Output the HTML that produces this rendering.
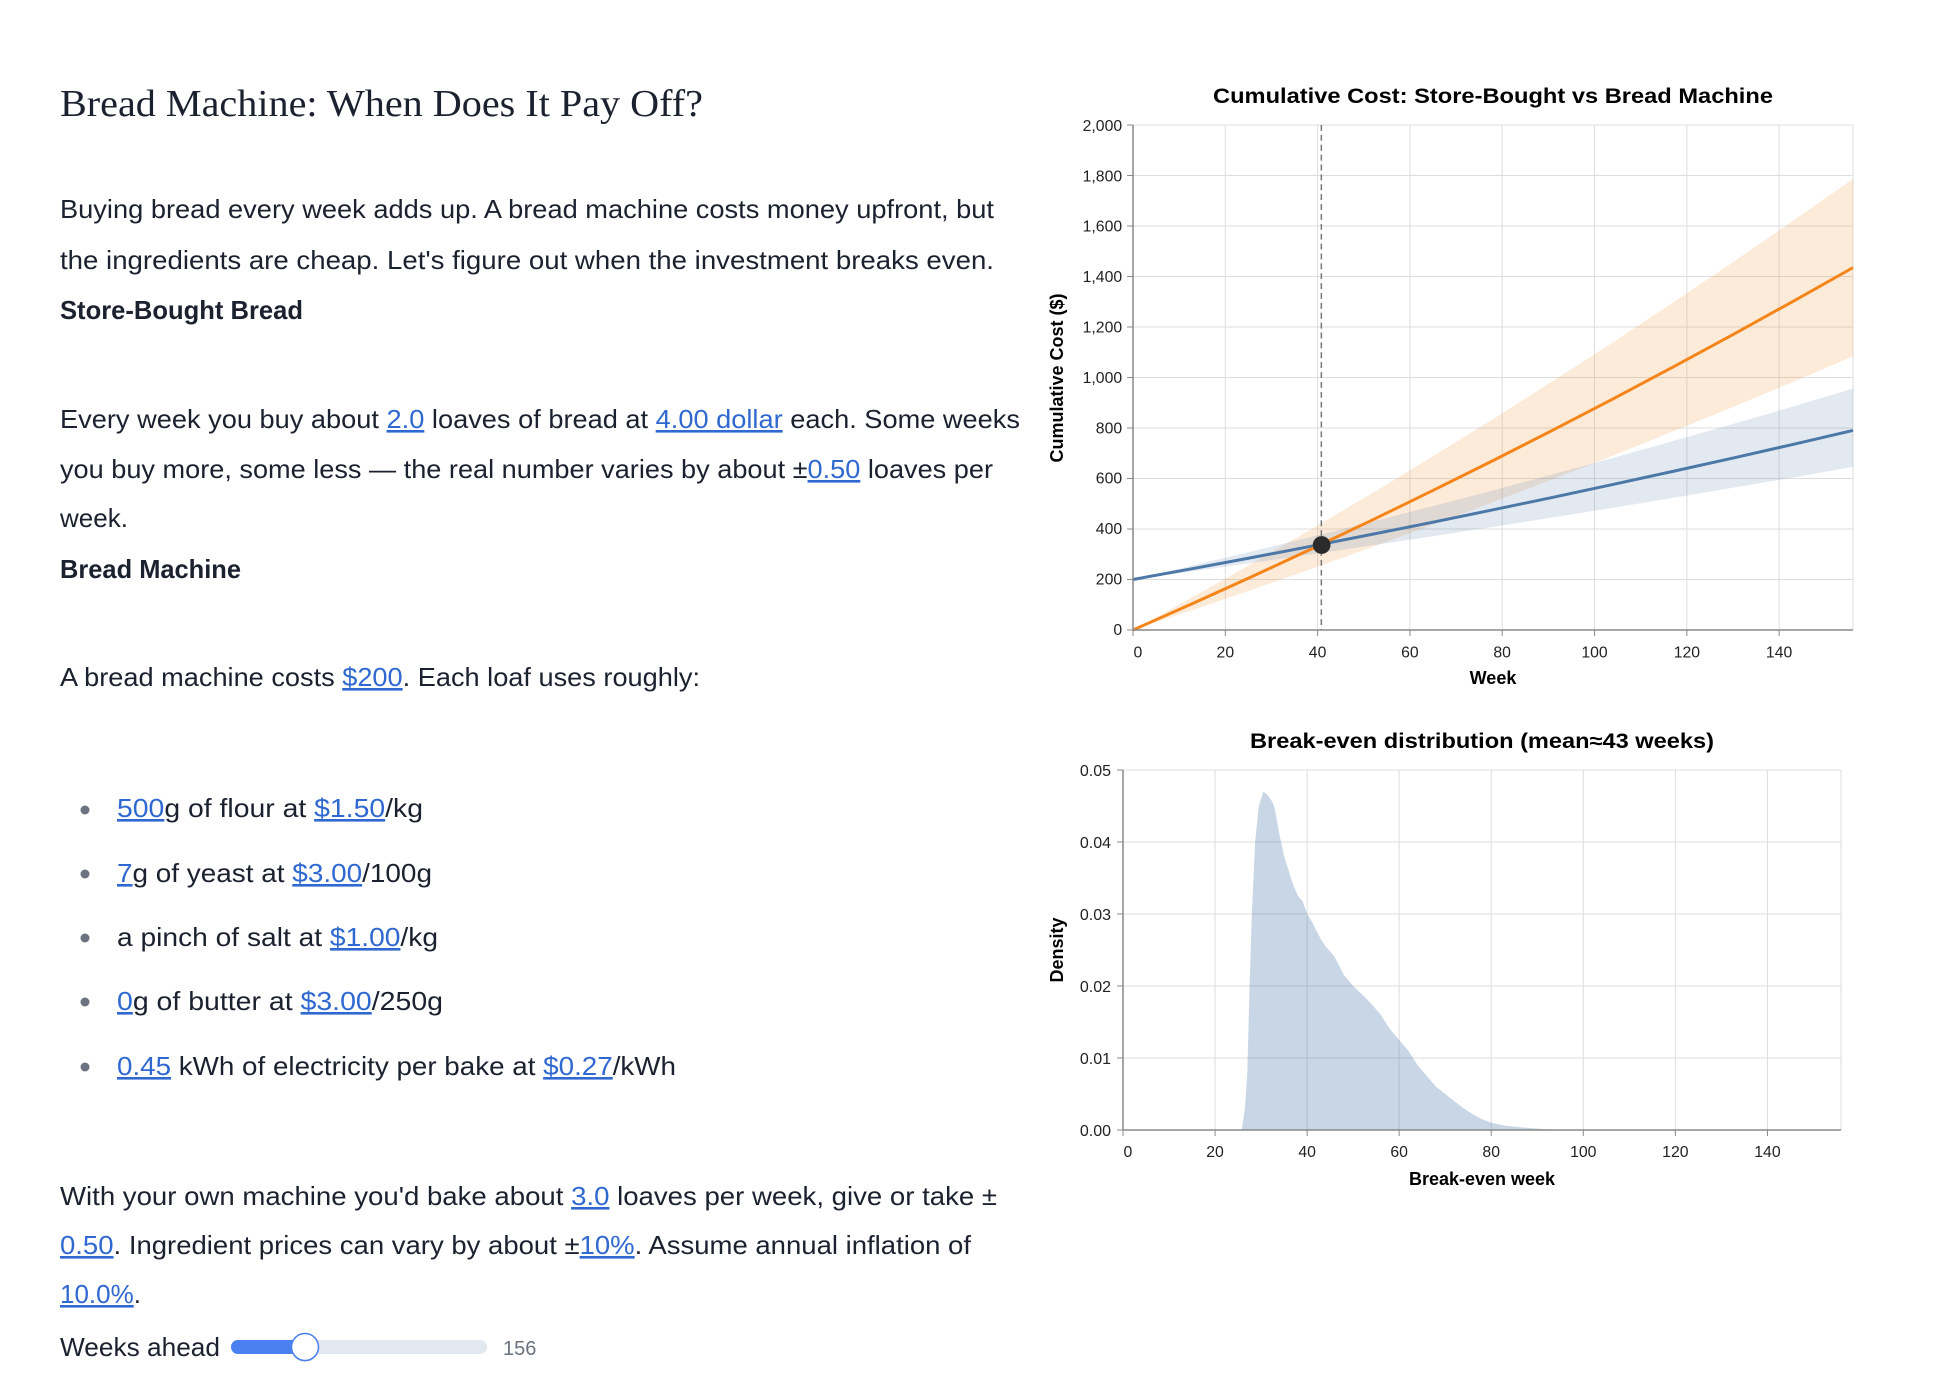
<!DOCTYPE html>
<html><head><meta charset="utf-8"><style>
html,body{margin:0;padding:0;background:#fff;width:1934px;height:1386px;overflow:hidden}
svg{display:block}
.t{font-family:"Liberation Sans",sans-serif;font-size:26px;fill:#1c2130}
.b{font-weight:bold}
.l{fill:#2f68d0;text-decoration:underline}
.tk{font-family:"Liberation Sans",sans-serif;font-size:16px;fill:#222}
.ct{font-family:"Liberation Sans",sans-serif;font-weight:bold;fill:#000}
</style></head><body>
<svg width="1934" height="1386" viewBox="0 0 1934 1386" xmlns="http://www.w3.org/2000/svg">
<text x="60" y="116" font-family="Liberation Serif,serif" font-size="38" fill="#1c2130" textLength="643" lengthAdjust="spacingAndGlyphs">Bread Machine: When Does It Pay Off?</text>

<text class="t" x="60" y="218" textLength="934" lengthAdjust="spacingAndGlyphs">Buying bread every week adds up. A bread machine costs money upfront, but</text>
<text class="t" x="60" y="269" textLength="934" lengthAdjust="spacingAndGlyphs">the ingredients are cheap. Let's figure out when the investment breaks even.</text>
<text class="t b" x="60" y="319" textLength="243" lengthAdjust="spacingAndGlyphs">Store-Bought Bread</text>
<text class="t" x="60" y="428" textLength="960" lengthAdjust="spacingAndGlyphs">Every week you buy about <tspan class="l">2.0</tspan> loaves of bread at <tspan class="l">4.00 dollar</tspan> each. Some weeks</text>
<text class="t" x="60" y="478" textLength="933" lengthAdjust="spacingAndGlyphs">you buy more, some less — the real number varies by about ±<tspan class="l">0.50</tspan> loaves per</text>
<text class="t" x="60" y="527">week.</text>
<text class="t b" x="60" y="578" textLength="181" lengthAdjust="spacingAndGlyphs">Bread Machine</text>
<text class="t" x="60" y="686" textLength="640" lengthAdjust="spacingAndGlyphs">A bread machine costs <tspan class="l">$200</tspan>. Each loaf uses roughly:</text>

<g fill="#6b7280"><circle cx="85" cy="810" r="4.5"/><circle cx="85" cy="874" r="4.5"/><circle cx="85" cy="938" r="4.5"/><circle cx="85" cy="1002" r="4.5"/><circle cx="85" cy="1067" r="4.5"/></g>
<text class="t" x="117" y="817" textLength="306" lengthAdjust="spacingAndGlyphs"><tspan class="l">500</tspan>g of flour at <tspan class="l">$1.50</tspan>/kg</text>
<text class="t" x="117" y="882" textLength="315" lengthAdjust="spacingAndGlyphs"><tspan class="l">7</tspan>g of yeast at <tspan class="l">$3.00</tspan>/100g</text>
<text class="t" x="117" y="946" textLength="321" lengthAdjust="spacingAndGlyphs">a pinch of salt at <tspan class="l">$1.00</tspan>/kg</text>
<text class="t" x="117" y="1010" textLength="326" lengthAdjust="spacingAndGlyphs"><tspan class="l">0</tspan>g of butter at <tspan class="l">$3.00</tspan>/250g</text>
<text class="t" x="117" y="1075" textLength="559" lengthAdjust="spacingAndGlyphs"><tspan class="l">0.45</tspan> kWh of electricity per bake at <tspan class="l">$0.27</tspan>/kWh</text>

<text class="t" x="60" y="1205" textLength="937" lengthAdjust="spacingAndGlyphs">With your own machine you'd bake about <tspan class="l">3.0</tspan> loaves per week, give or take ±</text>
<text class="t" x="60" y="1254" textLength="911" lengthAdjust="spacingAndGlyphs"><tspan class="l">0.50</tspan>. Ingredient prices can vary by about ±<tspan class="l">10%</tspan>. Assume annual inflation of</text>
<text class="t" x="60" y="1303"><tspan class="l">10.0%</tspan>.</text>
<text class="t" x="60" y="1356" textLength="160" lengthAdjust="spacingAndGlyphs">Weeks ahead</text>
<rect x="231" y="1340" width="256" height="14" rx="7" fill="#e3e7ef"/>
<rect x="231" y="1340" width="78" height="14" rx="7" fill="#4a80f0"/>
<circle cx="305" cy="1348" r="14" fill="#999" opacity="0.3"/>
<circle cx="305" cy="1347" r="13.5" fill="#fff" stroke="#4a80f0" stroke-width="1.5"/>
<text x="503" y="1355" font-family="Liberation Sans,sans-serif" font-size="20" fill="#6b7280">156</text>

<!-- Chart 1 -->
<text class="ct" x="1493" y="103" font-size="21" text-anchor="middle" textLength="560" lengthAdjust="spacingAndGlyphs">Cumulative Cost: Store-Bought vs Bread Machine</text>
<g transform="translate(1133,630) scale(0.98765,0.98826) translate(-1133,-637)">
<g stroke="#ddd" stroke-width="1">
<line x1="1133" y1="126" x2="1862" y2="126"/><line x1="1133" y1="177.1" x2="1862" y2="177.1"/><line x1="1133" y1="228.2" x2="1862" y2="228.2"/><line x1="1133" y1="279.3" x2="1862" y2="279.3"/><line x1="1133" y1="330.4" x2="1862" y2="330.4"/><line x1="1133" y1="381.5" x2="1862" y2="381.5"/><line x1="1133" y1="432.6" x2="1862" y2="432.6"/><line x1="1133" y1="483.7" x2="1862" y2="483.7"/><line x1="1133" y1="534.8" x2="1862" y2="534.8"/><line x1="1133" y1="585.9" x2="1862" y2="585.9"/>
<line x1="1226.5" y1="126" x2="1226.5" y2="637"/><line x1="1319.9" y1="126" x2="1319.9" y2="637"/><line x1="1413.4" y1="126" x2="1413.4" y2="637"/><line x1="1506.8" y1="126" x2="1506.8" y2="637"/><line x1="1600.3" y1="126" x2="1600.3" y2="637"/><line x1="1693.8" y1="126" x2="1693.8" y2="637"/><line x1="1787.2" y1="126" x2="1787.2" y2="637"/><line x1="1862" y1="126" x2="1862" y2="637"/>
</g>
<polygon fill="#f58518" fill-opacity="0.16" points="1133,637 1193.7,603.5 1254.5,569.1 1315.2,534.0 1376,498.1 1436.7,461.2 1497.5,423.6 1558.2,385.1 1619,345.9 1679.7,305.7 1740.5,264.7 1801.2,223.0 1862,180.5 1862,360.1 1801.2,386.0 1740.5,411.3 1679.7,436.1 1619,460.5 1558.2,484.3 1497.5,507.6 1436.7,530.4 1376,552.7 1315.2,574.6 1254.5,595.9 1193.7,616.7"/>
<polygon fill="#4c78a8" fill-opacity="0.16" points="1133,585.9 1193.7,571.7 1254.5,557.2 1315.2,542.4 1376,527.2 1436.7,511.6 1497.5,495.7 1558.2,479.4 1619,462.8 1679.7,445.8 1740.5,428.5 1801.2,410.9 1862,392.8 1862,472.0 1801.2,482.7 1740.5,493.1 1679.7,503.3 1619,513.3 1558.2,523.1 1497.5,532.7 1436.7,542.1 1376,551.2 1315.2,560.2 1254.5,569.0 1193.7,577.5"/>
<line x1="1323.7" y1="126" x2="1323.7" y2="637" stroke="#777" stroke-width="1.5" stroke-dasharray="6,4"/>
<polyline fill="none" stroke="#4c78a8" stroke-width="3" points="1133,585.9 1193.7,574.8 1254.5,563.5 1315.2,551.9 1376,540.0 1436.7,527.9 1497.5,515.4 1558.2,502.7 1619,489.7 1679.7,476.5 1740.5,463.0 1801.2,449.2 1862,435.1"/>
<polyline fill="none" stroke="#f58518" stroke-width="3" points="1133,637 1193.7,610.1 1254.5,582.5 1315.2,554.3 1376,525.4 1436.7,495.8 1497.5,465.6 1558.2,434.7 1619,403.2 1679.7,370.9 1740.5,338.0 1801.2,304.5 1862,270.3"/>
<ellipse cx="1324" cy="551" rx="9" ry="9" fill="#2b2b2b"/>
<g stroke="#888" stroke-width="1.5"><line x1="1133" y1="126" x2="1133" y2="637"/><line x1="1133" y1="637" x2="1862" y2="637"/></g>
<g stroke="#888" stroke-width="1">
<line x1="1127" y1="126" x2="1133" y2="126"/><line x1="1127" y1="177.1" x2="1133" y2="177.1"/><line x1="1127" y1="228.2" x2="1133" y2="228.2"/><line x1="1127" y1="279.3" x2="1133" y2="279.3"/><line x1="1127" y1="330.4" x2="1133" y2="330.4"/><line x1="1127" y1="381.5" x2="1133" y2="381.5"/><line x1="1127" y1="432.6" x2="1133" y2="432.6"/><line x1="1127" y1="483.7" x2="1133" y2="483.7"/><line x1="1127" y1="534.8" x2="1133" y2="534.8"/><line x1="1127" y1="585.9" x2="1133" y2="585.9"/><line x1="1127" y1="637" x2="1133" y2="637"/>
<line x1="1133" y1="637" x2="1133" y2="643"/><line x1="1226.5" y1="637" x2="1226.5" y2="643"/><line x1="1319.9" y1="637" x2="1319.9" y2="643"/><line x1="1413.4" y1="637" x2="1413.4" y2="643"/><line x1="1506.8" y1="637" x2="1506.8" y2="643"/><line x1="1600.3" y1="637" x2="1600.3" y2="643"/><line x1="1693.8" y1="637" x2="1693.8" y2="643"/><line x1="1787.2" y1="637" x2="1787.2" y2="643"/>
</g>
<g class="tk" text-anchor="end">
<text x="1122" y="132">2,000</text><text x="1122" y="183">1,800</text><text x="1122" y="234">1,600</text><text x="1122" y="285">1,400</text><text x="1122" y="336">1,200</text><text x="1122" y="387">1,000</text><text x="1122" y="438">800</text><text x="1122" y="489">600</text><text x="1122" y="540">400</text><text x="1122" y="591">200</text><text x="1122" y="642">0</text>
</g>
<g class="tk" text-anchor="middle">
<text x="1138" y="665">0</text><text x="1226.5" y="665">20</text><text x="1319.9" y="665">40</text><text x="1413.4" y="665">60</text><text x="1506.8" y="665">80</text><text x="1600.3" y="665">100</text><text x="1693.8" y="665">120</text><text x="1787.2" y="665">140</text>
</g>
</g>
<text class="ct" x="1493" y="684" font-size="18" text-anchor="middle">Week</text>
<text class="ct" font-size="18" text-anchor="middle" transform="translate(1063,378) rotate(-90)">Cumulative Cost ($)</text>

<!-- Chart 2 -->
<text class="ct" x="1482" y="748" font-size="21" text-anchor="middle" textLength="464" lengthAdjust="spacingAndGlyphs">Break-even distribution (mean≈43 weeks)</text>
<g transform="translate(1123,0) scale(0.989,1) translate(-1124,0)">
<g stroke="#ddd" stroke-width="1">
<line x1="1124" y1="770" x2="1850" y2="770"/><line x1="1124" y1="842" x2="1850" y2="842"/><line x1="1124" y1="914" x2="1850" y2="914"/><line x1="1124" y1="986" x2="1850" y2="986"/><line x1="1124" y1="1058" x2="1850" y2="1058"/>
<line x1="1217.1" y1="770" x2="1217.1" y2="1130"/><line x1="1310.2" y1="770" x2="1310.2" y2="1130"/><line x1="1403.2" y1="770" x2="1403.2" y2="1130"/><line x1="1496.3" y1="770" x2="1496.3" y2="1130"/><line x1="1589.4" y1="770" x2="1589.4" y2="1130"/><line x1="1682.5" y1="770" x2="1682.5" y2="1130"/><line x1="1775.6" y1="770" x2="1775.6" y2="1130"/><line x1="1850" y1="770" x2="1850" y2="1130"/>
</g>
<polygon fill="#4c78a8" fill-opacity="0.3" points="1244.1,1130 1247.3,1108.4 1249.7,1072.4 1252,986 1254.3,914 1257.6,842 1261.3,806 1266,791.6 1270.6,795.2 1275.3,802.4 1277.6,809.6 1282.2,834.8 1286.9,856.4 1291.5,870.8 1296.2,885.2 1300.9,896 1305.5,901 1310.2,914 1314.8,921.2 1319.5,930.6 1324.1,939.2 1328.8,946.4 1333.4,951.4 1338.1,957.2 1342.7,965.8 1347.4,975.2 1352,980.2 1356.7,986 1366,994.6 1375.3,1004 1384.6,1014.8 1393.9,1029.2 1403.2,1040 1412.5,1050.8 1421.9,1065.2 1431.2,1076 1440.5,1086.8 1449.8,1094 1459.1,1101.2 1468.4,1108.4 1477.7,1114.2 1487,1119.2 1496.3,1122.8 1510.3,1125.7 1524.2,1127.1 1542.9,1128.6 1566.1,1130"/>
<g stroke="#888" stroke-width="1.5"><line x1="1124" y1="770" x2="1124" y2="1130"/><line x1="1124" y1="1130" x2="1850" y2="1130"/></g>
<g stroke="#888" stroke-width="1">
<line x1="1118" y1="770" x2="1124" y2="770"/><line x1="1118" y1="842" x2="1124" y2="842"/><line x1="1118" y1="914" x2="1124" y2="914"/><line x1="1118" y1="986" x2="1124" y2="986"/><line x1="1118" y1="1058" x2="1124" y2="1058"/><line x1="1118" y1="1130" x2="1124" y2="1130"/>
<line x1="1124" y1="1130" x2="1124" y2="1136"/><line x1="1217.1" y1="1130" x2="1217.1" y2="1136"/><line x1="1310.2" y1="1130" x2="1310.2" y2="1136"/><line x1="1403.2" y1="1130" x2="1403.2" y2="1136"/><line x1="1496.3" y1="1130" x2="1496.3" y2="1136"/><line x1="1589.4" y1="1130" x2="1589.4" y2="1136"/><line x1="1682.5" y1="1130" x2="1682.5" y2="1136"/><line x1="1775.6" y1="1130" x2="1775.6" y2="1136"/>
</g>
<g class="tk" text-anchor="middle">
<text x="1129" y="1157">0</text><text x="1217.1" y="1157">20</text><text x="1310.2" y="1157">40</text><text x="1403.2" y="1157">60</text><text x="1496.3" y="1157">80</text><text x="1589.4" y="1157">100</text><text x="1682.5" y="1157">120</text><text x="1775.6" y="1157">140</text>
</g>
</g>
<g class="tk" text-anchor="end">
<text x="1111" y="776">0.05</text><text x="1111" y="848">0.04</text><text x="1111" y="920">0.03</text><text x="1111" y="992">0.02</text><text x="1111" y="1064">0.01</text><text x="1111" y="1136">0.00</text>
</g>
<text class="ct" x="1482" y="1185" font-size="18" text-anchor="middle">Break-even week</text>
<text class="ct" font-size="18" text-anchor="middle" transform="translate(1063,950) rotate(-90)">Density</text>
</svg>
</body></html>
